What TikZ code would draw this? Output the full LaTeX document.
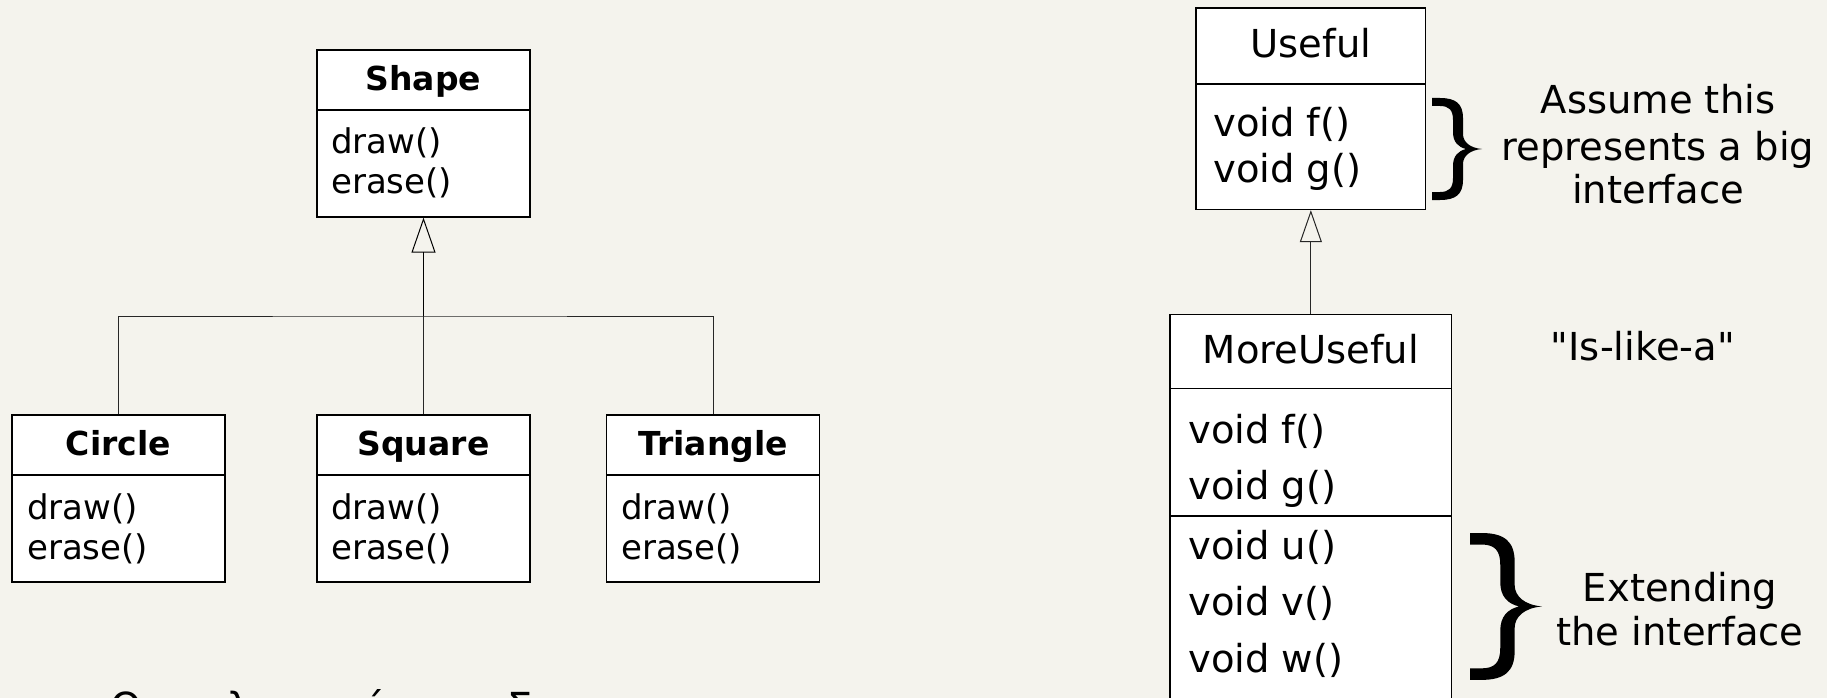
\documentclass[tikz,border=0pt]{standalone}
\usepackage{fontspec}
\setmainfont{DejaVu Sans}
% a family without TeX ligatures, so that " stays a straight quote
\newfontfamily\straightquotes{DejaVu Sans}
\usetikzlibrary{arrows.meta}

\definecolor{paper}{RGB}{244,243,237}

\tikzset{
  part/.style={draw=black, line width=1.3pt, fill=white, rectangle, inner sep=0pt},
  lhead/.style={part, minimum width=213pt, minimum height=60pt,
    font=\fontsize{33}{40}\selectfont\bfseries, text height=21.4pt, text depth=0pt},
  lbody/.style={part, minimum width=213pt, minimum height=107pt},
  ltext/.style={inner sep=0pt, anchor=west, align=left, font=\fontsize{34}{40}\selectfont},
  rhead/.style={part, font=\fontsize{38.5}{45}\selectfont, text height=23.2pt, text depth=0pt},
  rtext/.style={inner sep=0pt, anchor=west, align=left},
  note/.style={inner sep=0pt, anchor=base, font=\fontsize{38.5}{45}\selectfont},
  conn/.style={draw=black!85, line width=1pt},
  isa/.style={draw=black, line width=1.3pt,
    -{Triangle[open, length=35pt, width=24pt, line width=1pt]}},
  isasmall/.style={draw=black!85, line width=1pt,
    -{Triangle[open, length=32pt, width=22pt, line width=1pt]}},
  curly/.pic={
    \fill (0,0) -- (8,0) .. controls (24,0) and (31,6) .. (31,20) -- (31,36)
      .. controls (31,44) and (38,50) .. (50,51)
      .. controls (38,52) and (31,58) .. (31,66) -- (31,82)
      .. controls (31,96) and (24,102) .. (8,102) -- (0,102) -- (0,94) -- (8,94)
      .. controls (17,94) and (21,90) .. (21,80) -- (21,68)
      .. controls (21,58) and (26,53) .. (34,51)
      .. controls (26,49) and (21,44) .. (21,34) -- (21,22)
      .. controls (21,12) and (17,8) .. (8,8) -- (0,8) -- cycle;
  }
}

\begin{document}
\begin{tikzpicture}[x=1pt, y=-1pt]
\useasboundingbox (0,0) rectangle (1827,698);
\fill[paper] (0,0) rectangle (1827,698);
\clip (0,0) rectangle (1827,698);

% ---------- Shape hierarchy ----------
\node[lbody] (shapeB) at (423.5,163.5) {};
\node[lhead] (shapeH) at (423.5,80) {Shape};
\node[ltext] (shapeOps) at (331,162.5) {draw()\\erase()};

\node[lbody] (circleB) at (118.5,528.5) {};
\node[lhead] (circleH) at (118.5,445) {Circle};
\node[ltext] (circleOps) at (27,529) {draw()\\erase()};

\node[lbody] (squareB) at (423.5,528.5) {};
\node[lhead] (squareH) at (423.5,445) {Square};
\node[ltext] (squareOps) at (331,529) {draw()\\erase()};

\node[lbody] (triangleB) at (713,528.5) {};
\node[lhead] (triangleH) at (713,445) {Triangle};
\node[ltext] (triangleOps) at (621,529) {draw()\\erase()};

\coordinate (hub) at (423.5,316);
\draw[conn] (circleH.north) |- (hub) -| (triangleH.north);
\draw[conn] (squareH.north) -- (hub);
\draw[isa] (hub) -- (shapeB.south);

% ---------- Useful / MoreUseful ----------
\node[part, minimum width=229.7pt, minimum height=125.5pt] (usefulB) at (1310.85,146.75) {};
\node[rhead, minimum width=229.7pt, minimum height=76pt] (usefulH) at (1310.85,46) {Useful};
\node[rtext, font=\fontsize{38.5}{45.7}\selectfont] (usefulOps) at (1213,148.9) {void f()\\void g()};

\node[part, minimum width=281.7pt, minimum height=127.3pt] (moreB) at (1310.85,452.35) {};
\node[part, minimum width=281.7pt, minimum height=264pt] (moreX) at (1310.85,648) {};
\node[rhead, minimum width=281.7pt, minimum height=74.4pt] (moreH) at (1310.85,351.5) {MoreUseful};
\node[rtext, font=\fontsize{38.5}{56.3}\selectfont] (moreOps) at (1188,460.9) {void f()\\void g()};
\node[rtext, font=\fontsize{38.5}{56.5}\selectfont] (moreExt) at (1188,603.5) {void u()\\void v()\\void w()};

\draw[isasmall] (moreH.north) -- (usefulB.south);

% braces and remarks
\pic at (1432,98) {curly};
\pic[scale=1.44] at (1470,533) {curly};

\node[note] (assume1) at (1658,113.3) {Assume this};
\node[note] (assume2) at (1658,160) {represents a big};
\node[note] (assume3) at (1658,203.3) {interface};

\node[note] (islike) at (1643,360) {\straightquotes "Is-like-a"};

\node[note] (extend1) at (1680,601.7) {Extending};
\node[note] (extend2) at (1680,645) {the interface};

% caption line running off the lower edge
\node[inner sep=0pt, anchor=base west, font=\fontsize{40}{48}\selectfont] (caption) at (110,721) {Ο υπολογισμός του Σ};
\end{tikzpicture}
\end{document}
